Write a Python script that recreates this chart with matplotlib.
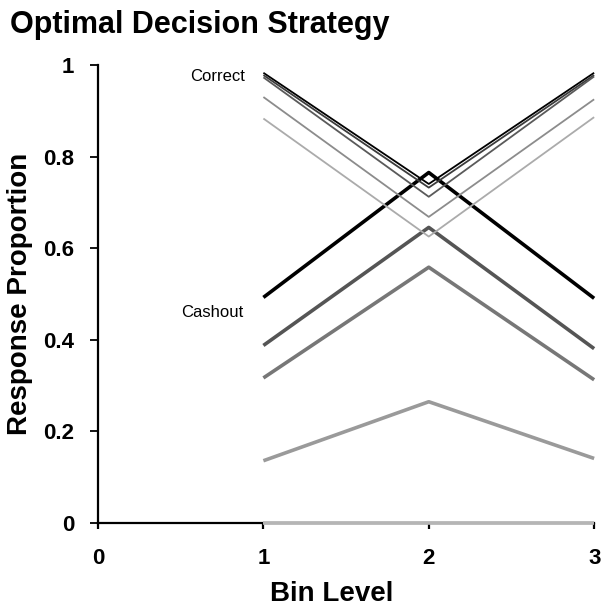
import matplotlib
matplotlib.use('Agg')
import matplotlib.pyplot as plt

plt.rcParams['font.family'] = ['Liberation Sans', 'DejaVu Sans']

bins = [1, 2, 3]

# correct responses (thin lines)
correct = [
    [0.983, 0.740, 0.983],
    [0.978, 0.732, 0.978],
    [0.973, 0.712, 0.975],
    [0.930, 0.668, 0.925],
    [0.883, 0.625, 0.886],
]
correct_colors = ['#000000', '#3c3c3c', '#5a5a5a', '#8c8c8c', '#ababab']

# cashout responses (thick lines)
cashout = [
    [0.492, 0.765, 0.490],
    [0.387, 0.645, 0.380],
    [0.316, 0.558, 0.312],
    [0.135, 0.264, 0.140],
    [0.0, 0.0, 0.0],
]
cashout_colors = ['#000000', '#555555', '#777777', '#9a9a9a', '#b5b5b5']

fig = plt.figure(figsize=(6.1, 6.15), dpi=100)
ax = fig.add_axes([0.1607, 0.1504, 0.8133, 0.7439])

for vals, c in zip(cashout, cashout_colors):
    ax.plot(bins, vals, color=c, lw=2.6, solid_capstyle='butt', clip_on=False, zorder=3)
for vals, c in zip(correct, correct_colors):
    ax.plot(bins, vals, color=c, lw=1.3, solid_capstyle='butt', clip_on=False, zorder=3)

ax.text(0.89, 0.974, 'Correct', ha='right', va='center', fontsize=12)
ax.text(0.877, 0.46, 'Cashout', ha='right', va='center', fontsize=12)

ax.set_xlim(0, 3)
ax.set_ylim(0, 1)
ax.set_xticks([0, 1, 2, 3])
ax.set_yticks([0, 0.2, 0.4, 0.6, 0.8, 1])
ax.set_yticklabels(['0', '0.2', '0.4', '0.6', '0.8', '1'])

for s in ['top', 'right']:
    ax.spines[s].set_visible(False)
for s in ['left', 'bottom']:
    ax.spines[s].set_linewidth(1.6)
    ax.spines[s].set_color('black')
    ax.spines[s].set_zorder(2.5)

ax.tick_params(axis='x', direction='out', length=4, width=1.6, pad=14)
ax.tick_params(axis='y', direction='out', length=6, width=1.3, pad=11)
for lab in ax.get_xticklabels() + ax.get_yticklabels():
    lab.set_fontsize(16)
    lab.set_fontweight('bold')

ax.set_xlabel('Bin Level', fontsize=20, fontweight='bold')
ax.set_ylabel('Response Proportion', fontsize=20, fontweight='bold')
ax.xaxis.set_label_coords(0.47, -0.128)
ax.yaxis.set_label_coords(-0.131, 0.5)

fig.text(0.016, 0.946, 'Optimal Decision Strategy', fontsize=22, fontweight='bold',
         ha='left', va='baseline')

fig.savefig('out.png', dpi=100)
